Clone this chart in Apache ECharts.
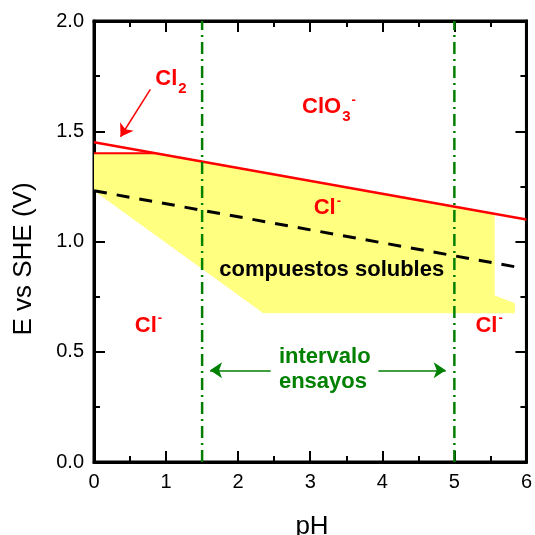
<!DOCTYPE html>
<html>
<head>
<meta charset="utf-8">
<script src="https://cdn.jsdelivr.net/npm/echarts@6/dist/echarts.min.js"></script>
<style>
  html, body { margin: 0; padding: 0; background: #fff; }
  #chart { width: 535px; height: 535px; }
</style>
</head>
<body>
<div id="chart"></div>
<script>
const FONT = '"Liberation Sans", Arial, Helvetica, sans-serif';

// Axis ranges and tick labels
const phRange = [0, 6];
const eRange = [0, 2];
const phTickStep = 1;
const eTickStep = 0.5;
const eTickLabels = ['0.0', '0.5', '1.0', '1.5', '2.0'];

// Boundaries, as [pH, E (V vs SHE)]
const chlorateLine = [[0, 1.45], [6, 1.10]];   // ClO3- / Cl-
const chlorineLine = [[0, 1.40], [0.84, 1.40]]; // Cl2 limit
const oxygenLine = [[0, 1.23], [5.9, 0.882]];   // O2 / H2O
const testRangeLow = [[1.5, 0], [1.5, 2]];
const testRangeHigh = [[5, 0], [5, 2]];

// Region where soluble compounds form
const solubleRegion = [
  [0, 1.40], [0.84, 1.40], [5.56, 1.126], [5.56, 0.755],
  [5.84, 0.72], [5.84, 0.675], [2.35, 0.675], [0, 1.23]
];

// Arrows: [tail, tip]
const cl2Arrow = [[0.782, 1.690], [0.368, 1.475]];
const rangeArrowLeft = [[2.451, 0.416], [1.61, 0.416]];
const rangeArrowRight = [[3.945, 0.416], [4.88, 0.416]];

// Annotations: anchor is the left end of the baseline, in [pH, E]
const RED = '#ff0000';
const GREEN = '#008000';
const annotations = [
  { at: [0.851, 1.702], color: RED, parts: [['Cl', 'n'], ['2', 'sub']] },
  { at: [2.887, 1.574], color: RED, parts: [['ClO', 'n'], ['3', 'sub'], ['-', 'sup']] },
  { at: [3.048, 1.116], color: RED, parts: [['Cl', 'n'], ['-', 'sup']] },
  { at: [0.566, 0.584], color: RED, parts: [['Cl', 'n'], ['-', 'sup']] },
  { at: [5.292, 0.584], color: RED, parts: [['Cl', 'n'], ['-', 'sup']] },
  { at: [1.738, 0.838], color: '#000', parts: [['compuestos solubles', 'n']] },
  { at: [2.566, 0.444], color: GREEN, parts: [['intervalo', 'n']] },
  { at: [2.566, 0.3265], color: GREEN, parts: [['ensayos', 'n']] }
];

const chart = echarts.init(document.getElementById('chart'), null, { renderer: 'canvas' });

function axisCommon(showLabels, isX) {
  return {
    type: 'value',
    min: isX ? phRange[0] : eRange[0],
    max: isX ? phRange[1] : eRange[1],
    interval: isX ? phTickStep : eTickStep,
    axisLine: { show: true, onZero: false, lineStyle: { color: '#000', width: 3 } },
    axisTick: { show: true, inside: true, length: 11, lineStyle: { color: '#000', width: 2 } },
    minorTick: { show: true, splitNumber: 2, length: 6, lineStyle: { color: '#000', width: 2 } },
    splitLine: { show: false },
    minorSplitLine: { show: false },
    axisLabel: {
      show: showLabels,
      color: '#000',
      fontSize: 20,
      fontFamily: FONT,
      margin: 10,
      formatter: isX ? (v) => String(v) : (v) => eTickLabels[Math.round(v / eTickStep)]
    }
  };
}

function lineSeries(data, style, z) {
  return {
    type: 'line', data: data, symbol: 'none', silent: true, z: z,
    xAxisIndex: 0, yAxisIndex: 0,
    lineStyle: style
  };
}

function arrowSeries(arrow, color, size) {
  return {
    type: 'lines', coordinateSystem: 'cartesian2d', xAxisIndex: 0, yAxisIndex: 0,
    silent: true, z: 6,
    symbol: ['none', 'arrow'], symbolSize: size,
    lineStyle: { color: color, width: 1.5, opacity: 1, curveness: 0 },
    data: [{ coords: arrow }]
  };
}

chart.setOption({
  animation: false,
  backgroundColor: '#fff',
  grid: { left: 94, right: 6, top: 21, bottom: 73, show: true, borderColor: '#000', borderWidth: 3, backgroundColor: 'transparent' },
  xAxis: [
    Object.assign(axisCommon(true, true), { position: 'bottom' }),
    Object.assign(axisCommon(false, true), { position: 'top' })
  ],
  yAxis: [
    Object.assign(axisCommon(true, false), { position: 'left' }),
    Object.assign(axisCommon(false, false), { position: 'right' })
  ],
  series: [
    {
      type: 'custom', coordinateSystem: 'cartesian2d', xAxisIndex: 0, yAxisIndex: 0,
      silent: true, z: 1, clip: false,
      data: [[3, 1]],
      renderItem: function (params, api) {
        return {
          type: 'polygon',
          shape: { points: solubleRegion.map(function (p) { return api.coord(p); }) },
          style: { fill: '#ffff80', stroke: null }
        };
      }
    },
    lineSeries(oxygenLine, { color: '#000', width: 3, type: [13, 10] }, 3),
    lineSeries(chlorineLine, { color: RED, width: 2 }, 4),
    lineSeries(chlorateLine, { color: RED, width: 2.5 }, 4),
    lineSeries(testRangeLow, { color: GREEN, width: 2.5, type: [12, 5, 2, 5] }, 5),
    lineSeries(testRangeHigh, { color: GREEN, width: 2.5, type: [12, 5, 2, 5] }, 5),
    arrowSeries(cl2Arrow, RED, [8, 12]),
    arrowSeries(rangeArrowLeft, GREEN, [7, 12]),
    arrowSeries(rangeArrowRight, GREEN, [7, 12])
  ]
});

// Text annotations with sub/superscripts, placed from data coordinates
function buildAnnotations() {
  const ctx = document.createElement('canvas').getContext('2d');
  const els = [];
  annotations.forEach(function (a) {
    const p = chart.convertToPixel({ gridIndex: 0 }, a.at);
    let x = p[0];
    a.parts.forEach(function (part) {
      const text = part[0], kind = part[1];
      const fs = kind === 'n' ? 22 : (kind === 'sub' ? 15 : 13);
      const dy = kind === 'sub' ? 7 : (kind === 'sup' ? -10 : 0);
      const font = 'bold ' + fs + 'px ' + FONT;
      if (kind !== 'n') x += 1;
      els.push({
        type: 'text', x: x, y: p[1] + dy - 0.3465 * fs, silent: true, z: 10,
        style: {
          text: text, fill: a.color, font: font,
          align: 'left', verticalAlign: 'middle',
          textAlign: 'left', textVerticalAlign: 'middle'
        }
      });
      ctx.font = font;
      x += ctx.measureText(text).width;
    });
  });
  return els;
}

const titleEls = [
  {
    type: 'text', x: 24, y: 259, rotation: Math.PI / 2, silent: true,
    style: { text: 'E vs SHE (V)', fill: '#000', font: '26px ' + FONT,
      align: 'center', verticalAlign: 'middle', textAlign: 'center', textVerticalAlign: 'middle' }
  },
  {
    type: 'text', x: 312, y: 527, silent: true,
    style: { text: 'pH', fill: '#000', font: '26px ' + FONT,
      align: 'center', verticalAlign: 'middle', textAlign: 'center', textVerticalAlign: 'middle' }
  }
];

chart.setOption({ graphic: { elements: titleEls.concat(buildAnnotations()) } });
</script>
</body>
</html>
